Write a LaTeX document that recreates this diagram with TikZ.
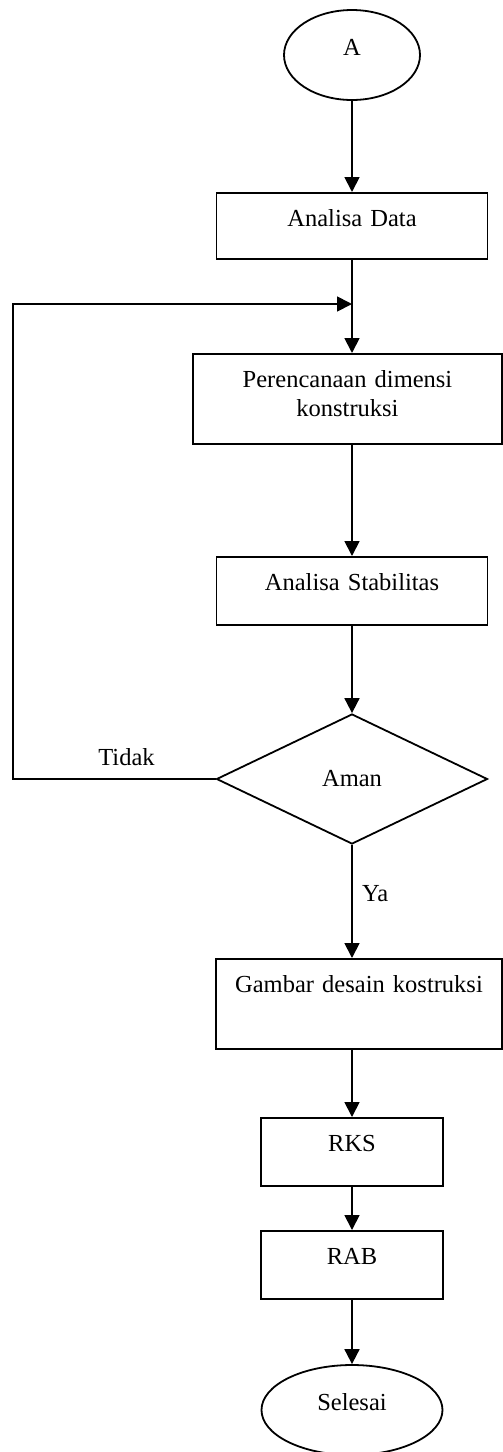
\documentclass[tikz,border=0pt]{standalone}
\usepackage{fontspec}
\setmainfont{Liberation Serif}
\usetikzlibrary{arrows.meta,shapes.geometric}
\newcommand{\flowfont}{\fontsize{24.5}{29}\selectfont}
\begin{document}
\begin{tikzpicture}[x=1pt,y=-1pt,
  every node/.style={font=\flowfont},
  line/.style={line width=1.8pt},
  flow/.style={line, -{Triangle[width=15pt,length=15pt]}},
  stepbox/.style={draw, line width=1.8pt, inner sep=0pt, align=center,
                  text height=34pt, anchor=north},
  terminal/.style={draw, ellipse, line width=1.8pt, inner sep=0pt,
                   text height=17pt, text depth=17pt},
  decision/.style={draw, diamond, line width=1.8pt, inner sep=0pt},
  lbl/.style={inner sep=0pt}
]
\useasboundingbox (0,0) rectangle (503,1452);

% terminals, process steps and the decision
\node[terminal, minimum width=136pt, minimum height=90pt] (start) at (352,55) {A};
\node[stepbox, text width=271pt, text depth=32pt] (data) at (352,192) {Analisa Data};
\node[stepbox, text width=309pt, text depth=56pt] (plan) at (347.5,353)
  {Perencanaan dimensi\\konstruksi};
\node[stepbox, text width=271pt, text depth=34pt] (stab) at (352,556) {Analisa Stabilitas};
\node[decision, minimum width=271pt, minimum height=130pt] (check) at (352,779) {Aman};
\node[stepbox, text width=286pt, text depth=56pt] (design) at (359,958)
  {Gambar desain kostruksi};
\node[stepbox, text width=182pt, text depth=34pt] (rks) at (352,1117) {RKS};
\node[stepbox, text width=182pt, text depth=34pt] (rab) at (352,1230) {RAB};
\node[terminal, minimum width=181pt, minimum height=90pt] (finish) at (352,1410) {Selesai};

% loop-back corner and junction on the main line
\coordinate (looptop) at (13,304);
\coordinate (join) at (352,304);

% main flow
\draw[flow] (start.south) -- (data.north);
\draw[flow] (data.south) -- (data.south |- plan.north);
\draw[flow] (stab.north |- plan.south) -- (stab.north);
\draw[flow] (stab.south) -- (check.north);
\draw[flow] (check.south) -- (check.south |- design.north);
\draw[flow] (rks.north |- design.south) -- (rks.north);
\draw[flow] (rks.south) -- (rab.north);
\draw[flow] (rab.south) -- (finish.north);

% "not safe" branch back to the dimension planning
\draw[flow] (check.west) -| (looptop) -- (join);

% branch labels
\node[lbl, anchor=base] (no) at (126.5,765) {Tidak};
\node[lbl, anchor=base west] (yes) at (362,901) {Ya};
\end{tikzpicture}
\end{document}
